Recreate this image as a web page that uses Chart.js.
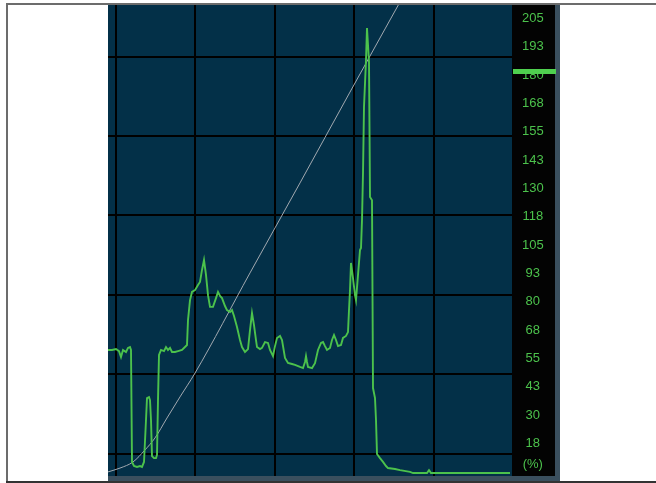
<!DOCTYPE html>
<html><head><meta charset="utf-8">
<style>html,body{margin:0;padding:0;background:#fff;}canvas{display:block;}</style>
<script src="https://cdn.jsdelivr.net/npm/chart.js@4"></script>
</head><body>
<canvas id="c" width="656" height="483"></canvas>
<script>
// Sample index (time) of the usage trace
const usageX = [0,4,8,11,13,15,18,20,22,23,24,26,29,32,34,36,38,39,41,42,43,44,46,48,49,50,51,53,56,58,60,62,64,67,70,74,77,79,80,82,84,87,90,92,94,96,98,100,102,105,108,110,112,114,117,119,122,124,126,129,132,134,137,140,142,144,146,148,149,152,154,157,160,162,165,167,169,172,174,177,180,184,187,192,195,197,198,199,200,204,207,210,213,215,217,219,222,224,226,228,230,233,235,238,240,241,242,243,245,247,248,250,252,253,254,255,256,258,259,260,261,262,264,265,267,268,269,272,275,278,280,287,292,302,305,312,319,321,323,332,352,372,392,402];
// Usage value (%)
const usageY = [58.7,58.7,59.1,58.2,55.6,58.7,57.8,59.6,60.0,58.7,9.3,7.5,7.1,7.5,7.1,9.3,27.8,37.5,37.9,36.6,27.8,11.9,11.0,11.0,12.4,36.6,56.5,58.7,58.2,60.0,58.7,59.6,57.8,57.8,58.2,58.7,60.0,60.9,71.9,80.7,84.3,85.1,87.4,88.7,94.0,98.4,91.8,82.9,77.7,77.7,81.6,84.3,82.5,81.6,78.1,76.3,75.4,76.3,73.7,68.8,63.1,60.0,57.8,59.1,67.5,75.0,69.7,63.1,60.0,59.1,59.6,62.2,61.8,58.7,56.0,60.4,64.0,64.9,63.1,55.2,53.0,52.5,52.1,51.2,50.7,53.4,56.0,53.4,51.2,50.7,52.9,58.7,61.8,62.2,60.4,58.7,59.6,63.1,65.3,63.1,60.4,60.9,64.0,64.9,66.6,76.3,85.1,97.1,90.4,82.9,80.7,91.8,102.8,103.7,116.0,136.8,165.9,186.6,200.7,193.2,185.7,126.2,124.8,41.9,37.5,27.8,12.8,11.0,9.3,7.5,6.6,6.2,5.7,4.9,4.4,4.4,4.4,5.7,4.4,4.4,4.4,4.4,4.4,4.4];
// Gray cumulative curve
const trendX = [0,12,25,37,47,59,72,87,142,192,242,312];
const trendY = [4.9,6.6,9.3,14.6,19.9,28.7,38.0,48.5,92.7,132.4,172.5,228.1];
// Axis
const tickValues = [205,192.5,180,167.5,155,142.5,130,117.5,105,92.5,80,67.5,55,42.5,30,17.5];
const unitLabel = '(%)';
const unitTick = 8;
const markerValue = 182;
const gridXValues = [7.7,87,166.5,246,325.7];
const gridYValues = [12.8,48.1,83.1,118.1,153.1,188.1];
const yMin = 3.1, yMax = 210.9;
const xMin = 0, xMax = 404;

const GREEN = '#4cc24c';

function noPad(s) { s.paddingTop = 0; s.paddingBottom = 0; s.paddingLeft = 0; s.paddingRight = 0; }

const frame = {
  id: 'frame',
  beforeDraw(chart) {
    const {ctx, chartArea: a, scales: {y}} = chart;
    ctx.save();
    ctx.fillStyle = '#ffffff';
    ctx.fillRect(0, 0, chart.width, chart.height);
    ctx.fillStyle = '#033048';
    ctx.fillRect(a.left, a.top, a.right - a.left, a.bottom - a.top);
    ctx.fillStyle = '#030303';
    ctx.fillRect(y.left, a.top, y.right - y.left, a.bottom - a.top);
    ctx.fillStyle = '#3a4f5e';
    ctx.fillRect(y.right, a.top, 5, a.bottom - a.top + 5);
    ctx.fillRect(a.left, a.bottom, y.right + 5 - a.left, 5);
    ctx.fillStyle = '#6c6c6c';
    ctx.fillRect(6, 3, chart.width - 6, 2);
    ctx.fillRect(6, 3, 2, 478);
    ctx.fillStyle = '#333333';
    ctx.fillRect(6, 481, chart.width - 6, 2);
    ctx.restore();
  },
  afterDraw(chart) {
    const {ctx, scales: {y}} = chart;
    const py = y.getPixelForValue(markerValue);
    ctx.save();
    ctx.fillStyle = '#4fd04f';
    ctx.fillRect(y.left + 1, Math.round(py) - 2, y.right - y.left, 5);
    ctx.restore();
  }
};

new Chart(document.getElementById('c'), {
  type: 'line',
  data: {
    datasets: [
      {
        data: usageX.map((x, i) => ({x, y: usageY[i]})),
        borderColor: GREEN, borderWidth: 1.9, pointRadius: 0, tension: 0,
        yAxisID: 'y', xAxisID: 'x'
      },
      {
        data: trendX.map((x, i) => ({x, y: trendY[i]})),
        borderColor: '#a2a9b0', borderWidth: 1, pointRadius: 0,
        cubicInterpolationMode: 'monotone',
        yAxisID: 'y', xAxisID: 'x'
      }
    ]
  },
  options: {
    responsive: false,
    devicePixelRatio: 1,
    animation: false,
    events: [],
    layout: {autoPadding: false, padding: {left: 108, top: 5, right: 101, bottom: 7}},
    plugins: {legend: {display: false}, tooltip: {enabled: false}},
    scales: {
      x: {
        type: 'linear', min: xMin, max: xMax,
        afterFit(s) { s.height = 0; noPad(s); },
        afterBuildTicks(s) { s.ticks = gridXValues.map(v => ({value: v})); },
        ticks: {display: false},
        grid: {color: '#000000', lineWidth: 2, drawTicks: false},
        border: {display: false}
      },
      yg: {
        type: 'linear', position: 'left', min: yMin, max: yMax,
        afterFit(s) { s.width = 0; noPad(s); },
        afterBuildTicks(s) { s.ticks = gridYValues.map(v => ({value: v})); },
        ticks: {display: false},
        grid: {color: '#000000', lineWidth: 2, drawTicks: false},
        border: {display: false}
      },
      y: {
        type: 'linear', position: 'right', min: yMin, max: yMax,
        afterFit(s) { s.width = 43; noPad(s); },
        afterBuildTicks(s) { s.ticks = tickValues.concat([unitTick]).map(v => ({value: v})); },
        ticks: {
          color: GREEN, font: {family: 'Liberation Sans', size: 13},
          crossAlign: 'center', padding: 10, autoSkip: false,
          callback: (v) => v === unitTick ? unitLabel : String(Math.round(v))
        },
        grid: {display: false, drawTicks: false},
        border: {display: false}
      }
    }
  },
  plugins: [frame]
});
</script>
</body></html>
